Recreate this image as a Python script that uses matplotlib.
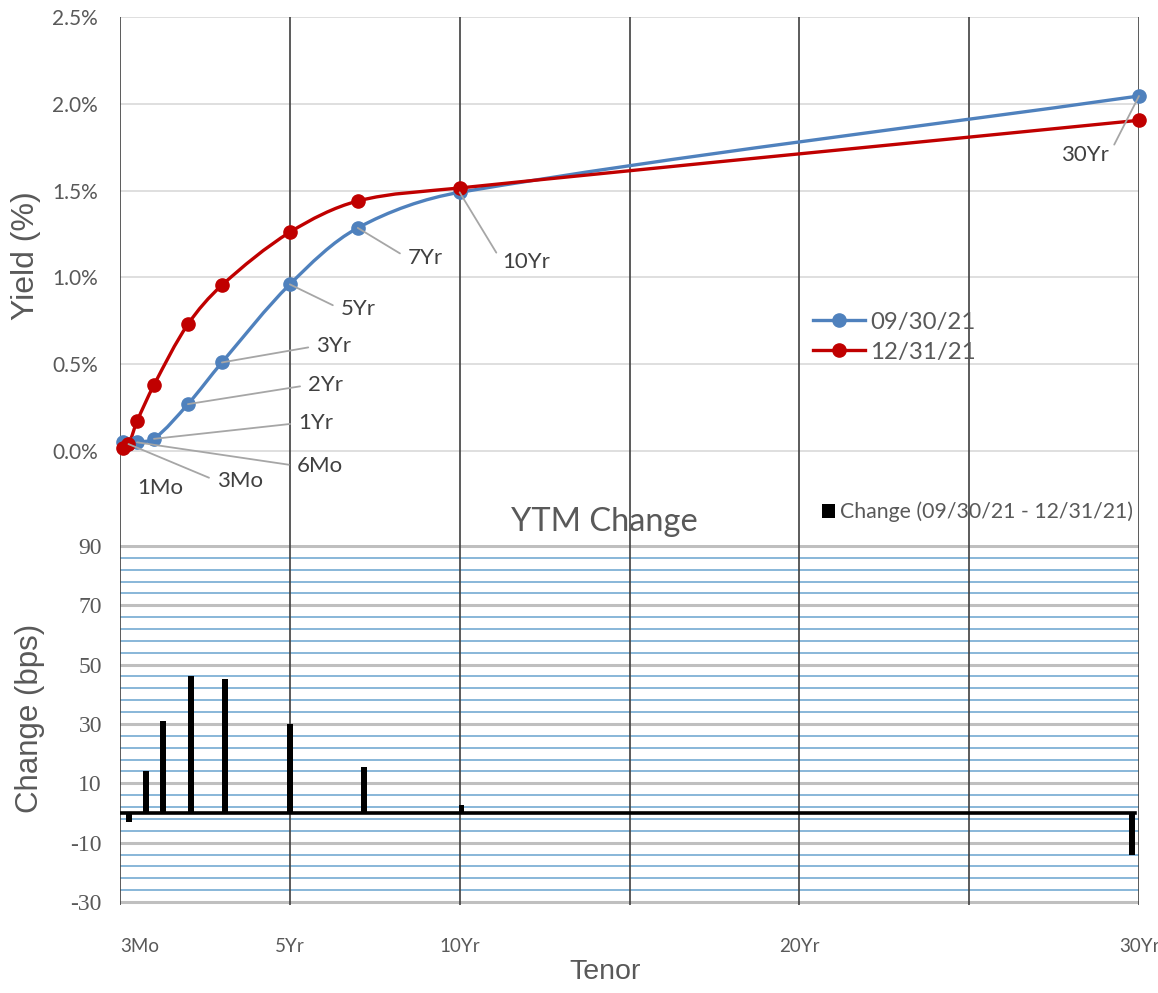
import numpy as np
import matplotlib.pyplot as plt
from matplotlib.path import Path
from matplotlib.patches import PathPatch, Patch
from matplotlib.lines import Line2D

plt.rcParams['font.family'] = ['Lato', 'DejaVu Sans']
plt.rcParams['axes.unicode_minus'] = False

# data
tenor_labels = ['1Mo', '3Mo', '6Mo', '1Yr', '2Yr', '3Yr', '5Yr', '7Yr', '10Yr', '30Yr']
tenors = [1 / 12, 0.25, 0.5, 1, 2, 3, 5, 7, 10, 30]
yield_sep = [0.05, 0.04, 0.05, 0.07, 0.27, 0.51, 0.96, 1.285, 1.49, 2.045]
yield_dec = [0.02, 0.04, 0.17, 0.38, 0.73, 0.955, 1.26, 1.44, 1.515, 1.905]

# bar chart sits on its own (slightly shifted) tenor axis in the original
change_x = [0.26, 0.76, 1.26, 2.09, 3.09, 5.0, 7.18, 10.06, 29.8]
change_bps = [-3, 14, 31, 46, 45, 30, 15.5, 2.7, -14]

sep_label = '09/30/21'
dec_label = '12/31/21'
change_label = 'Change (09/30/21 - 12/31/21)'

xtick_vals = [0, 5, 10, 20, 30]
xtick_labels = ['3Mo', '5Yr', '10Yr', '20Yr', '30Yr']

# layout of the data labels (text position in data units, leader side)
label_pos = {
    '1Mo': (1.18, -0.213, None),
    '3Mo': (3.53, -0.173, 'left'),
    '6Mo': (5.89, -0.086, 'left'),
    '1Yr': (5.77, 0.161, 'left'),
    '2Yr': (6.06, 0.38, 'left'),
    '3Yr': (6.30, 0.605, 'left'),
    '5Yr': (7.01, 0.818, 'left'),
    '7Yr': (8.98, 1.112, 'left'),
    '10Yr': (11.95, 1.089, 'left'),
    '30Yr': (28.41, 1.705, 'right'),
}

BLUE = '#4F81BD'
RED = '#C00000'
GREY_TXT = '#595959'
VLINE = '#404040'
ARIAL = ['Liberation Sans', 'DejaVu Sans']

W, H = 1158, 993
fig = plt.figure(figsize=(W / 100, H / 100), dpi=100)


def px_axes(l, t, r, b):
    return fig.add_axes([l / W, 1 - b / H, (r - l) / W, (b - t) / H])


ax1 = px_axes(120, 17, 1139, 545)
ax2 = px_axes(120, 545, 1139, 905)

ax1.set_xlim(0, 30)
ax1.set_ylim(2.5 - 528 / 173.6, 2.5)
ax2.set_xlim(0, 30)
ax2.set_ylim(-31, 90.3)

for ax in (ax1, ax2):
    for s in ax.spines.values():
        s.set_visible(False)
    ax.patch.set_alpha(0)
    for xv in range(0, 31, 5):
        ax.axvline(xv, color=VLINE, lw=1.2, zorder=2)


def smooth_path(ax, x, y):
    # excel-like smoothed line, built in screen proportions
    x0, x1 = ax.get_xlim()
    y0, y1 = ax.get_ylim()
    bb = ax.get_position()
    sx = bb.width * W / (x1 - x0)
    sy = bb.height * H / (y1 - y0)
    p = np.column_stack([np.asarray(x) * sx, np.asarray(y) * sy])
    n = len(p)
    verts = [p[0]]
    codes = [Path.MOVETO]
    for i in range(n - 1):
        a, b = p[i], p[i + 1]
        d = np.hypot(*(b - a))
        if i == 0:
            ta = (b - a) / 3
        else:
            dp = np.hypot(*(a - p[i - 1]))
            ta = (b - p[i - 1]) / 3 * d / (dp + d)
        if i + 2 >= n:
            tb = (b - a) / 3
        else:
            dn = np.hypot(*(p[i + 2] - b))
            tb = (p[i + 2] - a) / 3 * d / (d + dn)
        verts += [a + ta, b - tb, b]
        codes += [Path.CURVE4] * 3
    verts = np.array(verts) / [sx, sy]
    return Path(verts, codes)


# yield curves
ax1.set_yticks([0, 0.5, 1.0, 1.5, 2.0, 2.5])
ax1.set_yticklabels(['0.0%', '0.5%', '1.0%', '1.5%', '2.0%', '2.5%'])
ax1.set_xticks([])
ax1.grid(axis='y', color='#D9D9D9', lw=1.2, zorder=1)
ax1.tick_params(axis='y', length=0, pad=16, labelsize=15, labelcolor=GREY_TXT)

for yv, col in ((yield_sep, BLUE), (yield_dec, RED)):
    ax1.add_patch(PathPatch(smooth_path(ax1, tenors, yv), fill=False,
                            edgecolor=col, lw=2.4, zorder=4, clip_on=False))
    ax1.plot(tenors, yv, 'o', color=col, ms=9.5, zorder=5, clip_on=False)

for lab, t, yv in zip(tenor_labels, tenors, yield_sep):
    tx, ty, side = label_pos[lab]
    if side is None:
        ax1.text(tx, ty, lab, ha='center', va='center', fontsize=16,
                 color='#404040', zorder=6)
        continue
    ax1.annotate(lab, xy=(t, yv), xytext=(tx, ty), ha='center', va='center',
                 fontsize=16, color='#404040', zorder=6,
                 arrowprops=dict(arrowstyle='-', color='#A6A6A6', lw=1.3,
                                 shrinkA=4, shrinkB=0,
                                 relpos=(0, 0.5) if side == 'left' else (1, 0.5)))

handles = [Line2D([], [], color=BLUE, lw=2.4, marker='o', ms=9.5),
           Line2D([], [], color=RED, lw=2.4, marker='o', ms=9.5)]
fig.legend(handles, [sep_label, dec_label], loc='upper left',
           bbox_to_anchor=(791 / W, 1 - 290 / H), frameon=False, fontsize=17.3,
           handlelength=2.2, handletextpad=0.2, labelspacing=0.38,
           labelcolor=GREY_TXT)

# change bars
ax2.set_yticks(range(-30, 91, 20))
ax2.set_yticks([v for v in range(-30, 91, 4) if (v + 30) % 20], minor=True)
ax2.grid(axis='y', which='major', color='#BFBFBF', lw=2.2, zorder=1)
ax2.grid(axis='y', which='minor', color='#7FB1D6', lw=1.3, zorder=1)
ax2.tick_params(axis='y', which='both', length=0, pad=13, labelsize=17,
                labelcolor=GREY_TXT)
for t in ax2.get_yticklabels():
    t.set_family(['Liberation Serif', 'DejaVu Serif'])

ax2.set_xticks(xtick_vals)
ax2.set_xticklabels(xtick_labels)
ax2.tick_params(axis='x', length=0, pad=24, labelsize=13.5, labelcolor=GREY_TXT)
ax2.get_xticklabels()[0].set_ha('left')

ax2.axhline(0, xmin=0, xmax=29.88 / 30, color='black', lw=2.6, zorder=3)
ax2.bar(change_x, change_bps, width=0.16, color='black', zorder=4)

fig.legend([Patch(facecolor='black')], [change_label], loc='center left',
           bbox_to_anchor=(803 / W, 1 - 512 / H), frameon=False, fontsize=15.3,
           handlelength=0.6, handleheight=0.6, handletextpad=0.25,
           labelcolor=GREY_TXT)

fig.text(604 / W, 1 - 522 / H, 'YTM Change', ha='center', va='center',
         fontsize=23.5, color=GREY_TXT)
fig.text(26 / W, 1 - 256 / H, 'Yield (%)', rotation=90, ha='center',
         va='center', fontsize=23, color=GREY_TXT, family=ARIAL)
fig.text(30 / W, 1 - 718 / H, 'Change (bps)', rotation=90, ha='center',
         va='center', fontsize=22.5, color=GREY_TXT, family=ARIAL)
fig.text(605 / W, 1 - 972 / H, 'Tenor', ha='center', va='center',
         fontsize=20.5, color=GREY_TXT, family=ARIAL)

fig.savefig('out.png', dpi=100)
plt.close(fig)
